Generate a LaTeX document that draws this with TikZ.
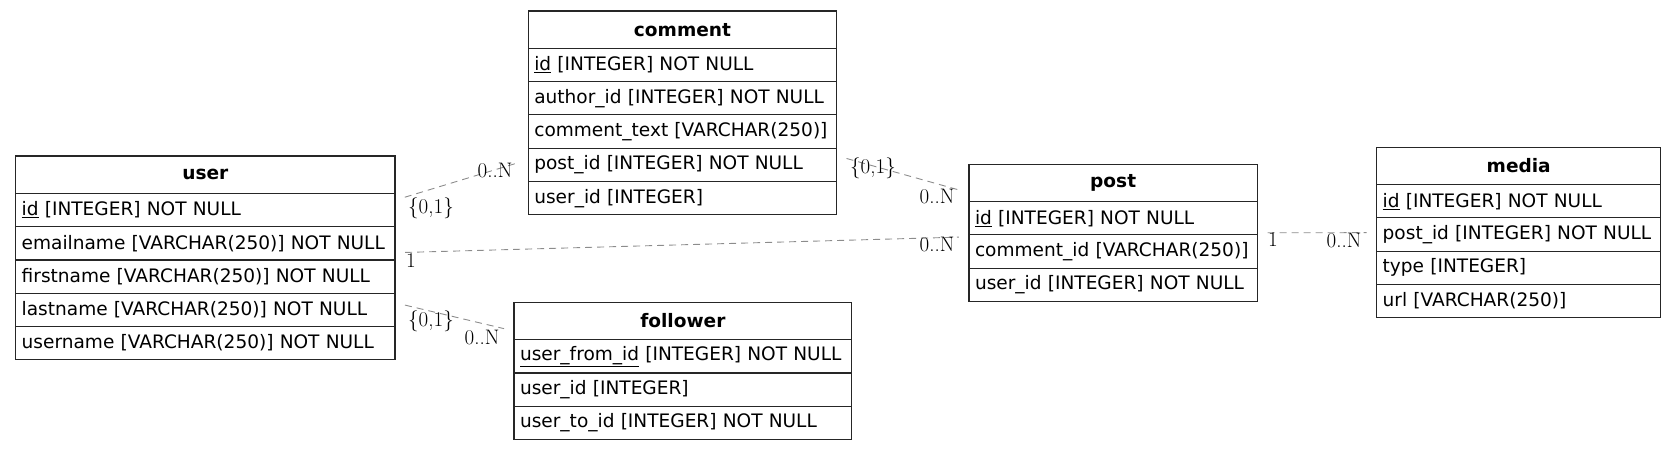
\documentclass[tikz,border=0pt]{standalone}
\usepackage{fontspec}
\usepackage{tikz}
\usetikzlibrary{positioning,fit}
\newfontfamily\erfont{DejaVu Sans}

\begin{document}
\begin{tikzpicture}[x=1pt,y=-1pt,
   hd/.style={draw=black!85,line width=1.2pt,outer sep=0pt,inner xsep=6pt,inner ysep=0pt,
     minimum height=37.3pt,text width=#1,align=center,
     font=\erfont\fontsize{18.55}{22}\selectfont\bfseries},
   rw/.style={draw=black!85,line width=1.2pt,outer sep=0pt,inner xsep=6pt,inner ysep=0pt,
     minimum height=33.3pt,text width=#1,align=left,
     font=\erfont\fontsize{18.55}{22}\selectfont},
   tb/.style={fit=#1,inner sep=0pt},
   rel/.style={draw=black!45,line width=0.9pt,dash pattern=on 7pt off 5pt,
     shorten <=10pt,shorten >=10pt},
   card/.style={font=\fontsize{21}{24}\selectfont,inner sep=0pt}]
  \useasboundingbox (0,0) rectangle (1676,449);
  % user
  \node[hd=367.3pt,anchor=north west] (uh) at (15.7,156) {user};
  \node[rw=367.3pt,below=0pt of uh] (u1) {\underline{id} [INTEGER] NOT NULL};
  \node[rw=367.3pt,below=0pt of u1] (u2) {emailname [VARCHAR(250)] NOT NULL};
  \node[rw=367.3pt,below=0pt of u2] (u3) {firstname [VARCHAR(250)] NOT NULL};
  \node[rw=367.3pt,below=0pt of u3] (u4) {lastname [VARCHAR(250)] NOT NULL};
  \node[rw=367.3pt,below=0pt of u4] (u5) {username [VARCHAR(250)] NOT NULL};
  \node[tb=(uh)(u5)] (user) {};
  % comment
  \node[hd=296.4pt,anchor=north west] (ch) at (528.3,11) {comment};
  \node[rw=296.4pt,below=0pt of ch] (c1) {\underline{id} [INTEGER] NOT NULL};
  \node[rw=296.4pt,below=0pt of c1] (c2) {author\_id [INTEGER] NOT NULL};
  \node[rw=296.4pt,below=0pt of c2] (c3) {comment\_text [VARCHAR(250)]};
  \node[rw=296.4pt,below=0pt of c3] (c4) {post\_id [INTEGER] NOT NULL};
  \node[rw=296.4pt,below=0pt of c4] (c5) {user\_id [INTEGER]};
  \node[tb=(ch)(c5)] (comment) {};
  % post
  \node[hd=276.3pt,anchor=north west] (ph) at (969,164.3) {post};
  \node[rw=276.3pt,below=0pt of ph] (p1) {\underline{id} [INTEGER] NOT NULL};
  \node[rw=276.3pt,below=0pt of p1] (p2) {comment\_id [VARCHAR(250)]};
  \node[rw=276.3pt,below=0pt of p2] (p3) {user\_id [INTEGER] NOT NULL};
  \node[tb=(ph)(p3)] (post) {};
  % follower
  \node[hd=325.7pt,anchor=north west] (fh) at (514,302.3) {follower};
  \node[rw=325.7pt,below=0pt of fh] (f1) {\underline{user\_from\_id} [INTEGER] NOT NULL};
  \node[rw=325.7pt,below=0pt of f1] (f2) {user\_id [INTEGER]};
  \node[rw=325.7pt,below=0pt of f2] (f3) {user\_to\_id [INTEGER] NOT NULL};
  \node[tb=(fh)(f3)] (follower) {};
  % media
  \node[hd=272pt,anchor=north west] (mh) at (1376.7,147.3) {media};
  \node[rw=272pt,below=0pt of mh] (m1) {\underline{id} [INTEGER] NOT NULL};
  \node[rw=272pt,below=0pt of m1] (m2) {post\_id [INTEGER] NOT NULL};
  \node[rw=272pt,below=0pt of m2] (m3) {type [INTEGER]};
  \node[rw=272pt,below=0pt of m3] (m4) {url [VARCHAR(250)]};
  \node[tb=(mh)(m4)] (media) {};
  % relations
  \draw[rel] (user) -- (comment);
  \draw[rel] (user) -- (post);
  \draw[rel] (user) -- (follower);
  \draw[rel] (comment) -- (post);
  \draw[rel] (post) -- (media);
  \node[card] (uc1) at (431,208) {\{0,1\}};
  \node[card] (uc2) at (495,170) {0..N};
  \node[card] (up1) at (411,261) {1};
  \node[card] (up2) at (937,244) {0..N};
  \node[card] (uf1) at (431,321) {\{0,1\}};
  \node[card] (uf2) at (482,337) {0..N};
  \node[card] (cp1) at (873,168) {\{0,1\}};
  \node[card] (cp2) at (937,196) {0..N};
  \node[card] (pm1) at (1273,240) {1};
  \node[card] (pm2) at (1344,240) {0..N};
\end{tikzpicture}
\end{document}
